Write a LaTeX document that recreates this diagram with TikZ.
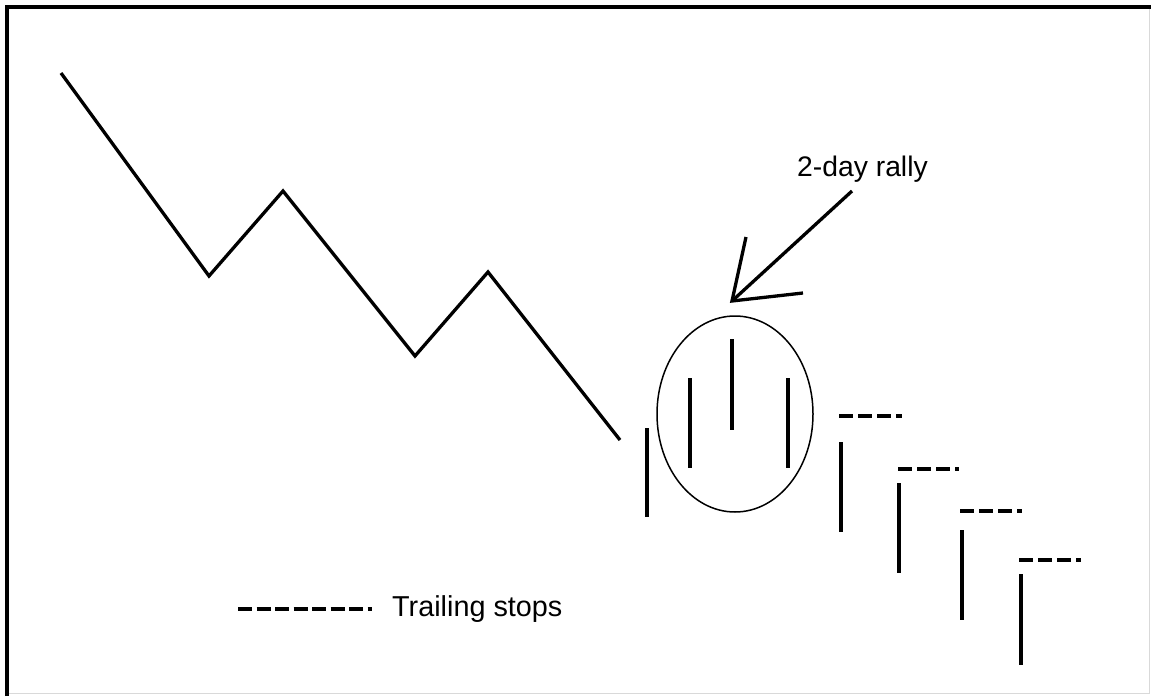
\documentclass[tikz,border=0pt]{standalone}
\usepackage{fontspec}
\setmainfont{Liberation Sans}
\usetikzlibrary{shapes.geometric}
\begin{document}
\begin{tikzpicture}[x=1pt,y=-1pt,
  trend/.style={line width=3.3pt, line join=miter},
  bar/.style={line width=3.8pt},
  stopline/.style={line width=4pt, dash pattern=on 14pt off 5pt},
  legendline/.style={line width=4pt, dash pattern=on 14pt off 4.5pt},
  oval/.style={line width=1.5pt},
  pointer/.style={line width=3.3pt, line join=miter},
  label/.style={inner sep=0pt, anchor=base west}]
\useasboundingbox (0,0) rectangle (1151,696);
\fill[white] (0,0) rectangle (1151,696);
% frame
\draw[black!15, line width=1pt] (7,693) -- (1149,693) -- (1149,7);
\draw[line width=4pt] (7,696) -- (7,7) -- (1151,7);
% zigzag trend
\coordinate (z0) at (61,73);
\coordinate (z1) at (209,276);
\coordinate (z2) at (283,191);
\coordinate (z3) at (415,356);
\coordinate (z4) at (488,272);
\coordinate (z5) at (620,440);
\draw[trend] (z0) -- (z1) -- (z2) -- (z3) -- (z4) -- (z5);
% first bar
\coordinate (b0t) at (647,428); \coordinate (b0b) at (647,517);
\draw[bar] (b0t) -- (b0b);
% rally bars and oval
\node[oval, draw, ellipse, minimum width=156pt, minimum height=196pt, inner sep=0pt] (ov) at (735,414) {};
\coordinate (r1t) at (690,378); \coordinate (r1b) at (690,468);
\coordinate (r2t) at (732,339); \coordinate (r2b) at (732,430);
\coordinate (r3t) at (788,378); \coordinate (r3b) at (788,468);
\draw[bar] (r1t) -- (r1b);
\draw[bar] (r2t) -- (r2b);
\draw[bar] (r3t) -- (r3b);
% arrow
\node[label, font=\fontsize{28.3}{31}\selectfont] (rally) at (797,176) {2-day rally};
\coordinate (as) at (852,191);
\coordinate (tip) at (732,301);
\coordinate (h1) at (746,237);
\coordinate (h2) at (803,293);
\draw[pointer] (as) -- (tip);
\draw[pointer] (h1) -- (tip) -- (h2);
% falling bars with trailing stops
\coordinate (aT) at (841,442); \coordinate (aB) at (841,532);
\coordinate (aS) at (839,416); \coordinate (aE) at (902,416);
\coordinate (bT) at (899,483); \coordinate (bB) at (899,573);
\coordinate (bS) at (898,469); \coordinate (bE) at (959,469);
\coordinate (cT) at (962,530); \coordinate (cB) at (962,620);
\coordinate (cS) at (960,511); \coordinate (cE) at (1022,511);
\coordinate (dT) at (1021,574); \coordinate (dB) at (1021,665);
\coordinate (dS) at (1019,560); \coordinate (dE) at (1081,560);
\draw[bar] (aT) -- (aB);
\draw[bar] (bT) -- (bB);
\draw[bar] (cT) -- (cB);
\draw[bar] (dT) -- (dB);
\draw[stopline] (aS) -- (aE);
\draw[stopline] (bS) -- (bE);
\draw[stopline] (cS) -- (cE);
\draw[stopline] (dS) -- (dE);
% legend
\coordinate (lS) at (238,609); \coordinate (lE) at (372,609);
\draw[legendline] (lS) -- (lE);
\node[label, font=\fontsize{28.8}{31}\selectfont] (leg) at (392,616) {Trailing stops};
\end{tikzpicture}
\end{document}
